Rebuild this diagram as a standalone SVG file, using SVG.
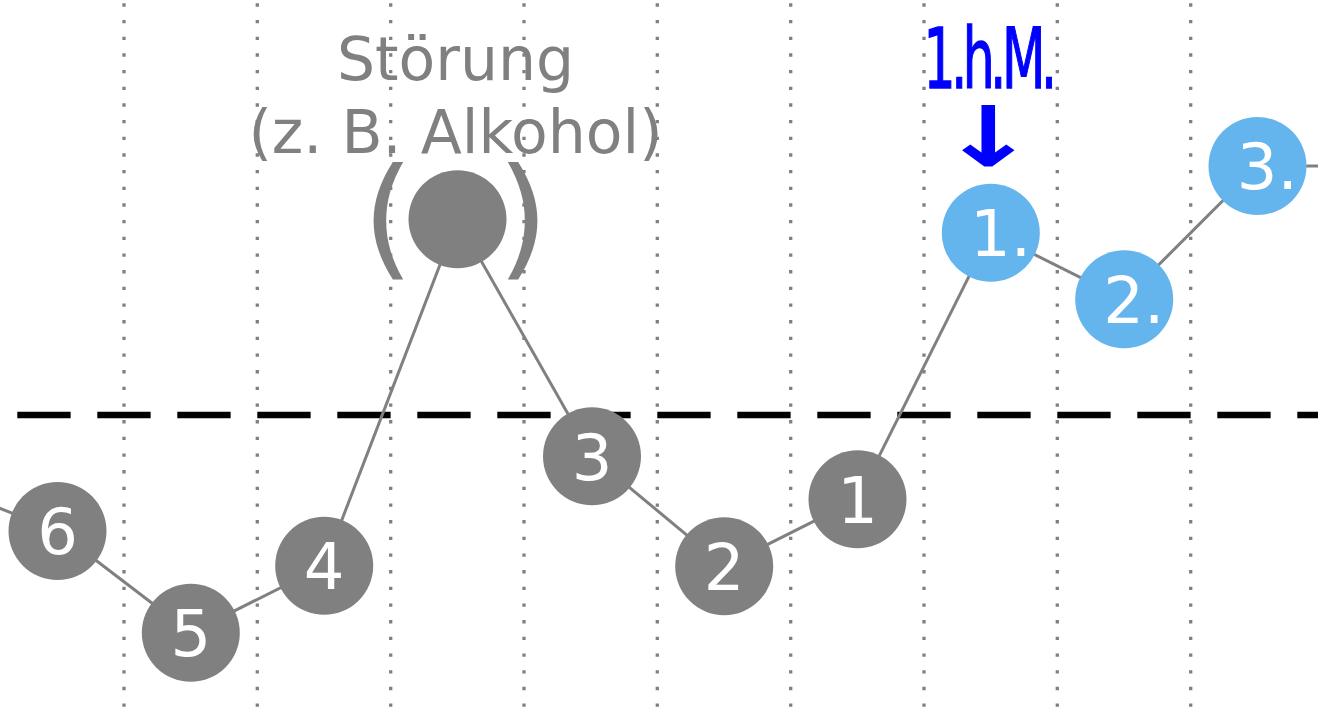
<svg xmlns="http://www.w3.org/2000/svg" width="1318" height="714" viewBox="0 0 1318 714">
<style>
.lbl{font-family:"DejaVu Sans","Liberation Sans",sans-serif;}
.grid line{stroke:#808080;stroke-width:3.3;stroke-dasharray:3.33 13.34;}
.conn line{stroke:#808080;stroke-width:3;}
.g circle{fill:#808080;}
.b circle{fill:#64b4ee;}
.node text{fill:#ffffff;font-size:64px;text-anchor:middle;font-family:"DejaVu Sans","Liberation Sans",sans-serif;}
</style>
<rect width="1318" height="714" fill="#ffffff"/>
<g id="disturbance-label" class="lbl" fill="#808080" font-size="60" text-anchor="middle">
<text x="455.5" y="80">Störung</text>
<text x="455.5" y="153.3">(z. B. Alkohol)</text>
</g>
<g id="grid" class="grid">
<line x1="124" y1="3.33" x2="124" y2="714"/>
<line x1="257.3" y1="3.33" x2="257.3" y2="714"/>
<line x1="390.7" y1="3.33" x2="390.7" y2="714"/>
<line x1="524" y1="3.33" x2="524" y2="714"/>
<line x1="657.3" y1="3.33" x2="657.3" y2="714"/>
<line x1="790.7" y1="3.33" x2="790.7" y2="714"/>
<line x1="924" y1="3.33" x2="924" y2="714"/>
<line x1="1057.3" y1="3.33" x2="1057.3" y2="714"/>
<line x1="1190.7" y1="3.33" x2="1190.7" y2="714"/>
</g>
<g id="threshold">
<line x1="17.3" y1="415" x2="1318" y2="415" stroke="#000000" stroke-width="6.67" stroke-dasharray="53.33 26.67"/>
</g>
<g id="connectors" class="conn">
<line x1="-76" y1="478.5" x2="57.5" y2="531"/>
<line x1="57.5" y1="531" x2="190.8" y2="632.8"/>
<line x1="190.8" y1="632.8" x2="324.2" y2="565.8"/>
<line x1="324.2" y1="565.8" x2="457.5" y2="219.2"/>
<line x1="457.5" y1="219.2" x2="592" y2="456.3"/>
<line x1="592" y1="456.3" x2="724.2" y2="566.2"/>
<line x1="724.2" y1="566.2" x2="857.5" y2="499.3"/>
<line x1="857.5" y1="499.3" x2="990.8" y2="232.7"/>
<line x1="990.8" y1="232.7" x2="1124.2" y2="299.3"/>
<line x1="1124.2" y1="299.3" x2="1257.5" y2="166"/>
<line x1="1257.5" y1="166" x2="1318" y2="166"/>
</g>
<g id="node-6" class="node g"><circle cx="57.5" cy="531" r="49"/><text x="57.5" y="554.3">6</text></g>
<g id="node-5" class="node g"><circle cx="190.8" cy="632.8" r="49"/><text x="190.8" y="656.1">5</text></g>
<g id="node-4" class="node g"><circle cx="324.2" cy="565.8" r="49"/><text x="324.2" y="589.1">4</text></g>
<g id="node-disturbance" class="node g"><circle cx="457.5" cy="219.2" r="49"/>
<text class="lbl" x="388" y="262" style="fill:#808080;font-size:132px">(</text>
<text class="lbl" x="523" y="262" style="fill:#808080;font-size:132px">)</text>
</g>
<g id="node-3" class="node g"><circle cx="592" cy="456.3" r="49"/><text x="592" y="479.6">3</text></g>
<g id="node-2" class="node g"><circle cx="724.2" cy="566.2" r="49"/><text x="724.2" y="589.5">2</text></g>
<g id="node-1" class="node g"><circle cx="857.5" cy="499.3" r="49"/><text x="857.5" y="522.6">1</text></g>
<g id="node-1b" class="node b"><circle cx="990.8" cy="232.7" r="49"/><text x="1000.5" y="256">1.</text></g>
<g id="node-2b" class="node b"><circle cx="1124.2" cy="299.3" r="49"/><text x="1133.9" y="322.6">2.</text></g>
<g id="node-3b" class="node b"><circle cx="1257.5" cy="166" r="49"/><text x="1267.2" y="189.3">3.</text></g>
<g id="first-day-label" class="lbl" fill="#0000ff">
<text transform="translate(923.5,88.3) scale(0.6,1)" x="0" y="0" font-size="84" letter-spacing="-7.3" stroke="#0000ff" stroke-width="1.5">1.h.M.</text>
<text transform="translate(988.3,166) scale(1.38,1)" x="0" y="0" font-size="84" font-weight="bold" text-anchor="middle">↓</text>
</g>
</svg>
